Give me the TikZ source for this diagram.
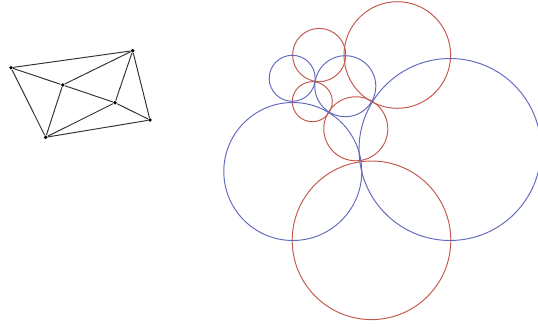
\documentclass[tikz,border=0pt]{standalone}
\usepackage{tikz}
\usepackage{xcolor}
\definecolor{vermelho}{RGB}{194,88,78}
\definecolor{azul}{RGB}{98,106,190}

\begin{document}
\begin{tikzpicture}[x=0.02cm,y=-0.02cm,
  vertice/.style={circle,fill=black,inner sep=0pt,minimum size=2.2pt},
  aresta/.style={line width=0.55pt,black!80}]
\useasboundingbox (0,0) rectangle (538,328);
% Grafo
\node[vertice] (a) at (11,67.7) {};
\node[vertice] (b) at (132.7,50.7) {};
\node[vertice] (c) at (62.7,85) {};
\node[vertice] (d) at (115,102.7) {};
\node[vertice] (e) at (150,120) {};
\node[vertice] (f) at (45.7,137.3) {};
\draw[aresta] (a) -- (b) -- (e) -- (f) -- (a); % Contorno
\draw[aresta] (a) -- (c) -- (d) -- (e);
\draw[aresta] (c) -- (b) -- (d) -- (f) -- (c);
% Circulos vermelhos
\draw[vermelho,line width=0.55pt] (397.3,55) circle (53.3);
\draw[vermelho,line width=0.55pt] (319.2,55) circle (26.6);
\draw[vermelho,line width=0.55pt] (312.3,101.7) circle (20);
\draw[vermelho,line width=0.55pt] (355.8,128.8) circle (32);
\draw[vermelho,line width=0.55pt] (371.5,240.3) circle (79.3);
% Circulos azuis
\draw[azul,line width=0.55pt] (292.2,78.3) circle (23);
\draw[azul,line width=0.55pt] (345.3,86.2) circle (30.5);
\draw[azul,line width=0.55pt] (292.8,171.5) circle (69);
\draw[azul,line width=0.55pt] (450,149.5) circle (91);
\end{tikzpicture}
\end{document}
